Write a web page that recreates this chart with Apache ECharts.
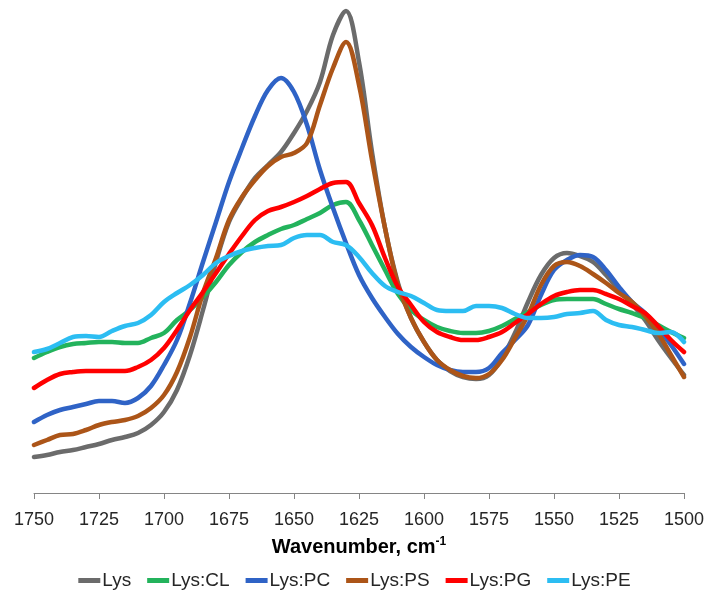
<!DOCTYPE html>
<html>
<head>
<meta charset="utf-8">
<title>Amide I / II spectra of lysozyme with lipids</title>
<script src="https://cdn.jsdelivr.net/npm/echarts@6/dist/echarts.min.js"></script>
<style>
  html, body { margin: 0; padding: 0; background: #ffffff; }
  #chart { width: 709px; height: 599px; }
</style>
</head>
<body>
<div id="chart"></div>
<script>
// Wavenumber grid, cm-1 (1750 -> 1500, step 5)
const wavenumbers = [];
for (let w = 1750; w >= 1500; w -= 5) wavenumbers.push(w);

// Absorbance, arbitrary units (x1000), one value per wavenumber above
const lys = [36, 38, 41, 43, 46, 49, 53, 56, 60, 68, 81, 103, 138, 183, 231, 271, 295, 315, 328, 341,
  360, 382, 411, 458, 482, 431, 341, 265, 210, 175, 151, 133, 122, 116, 114, 118, 135, 160, 191, 218,
  235, 240, 237, 231, 218, 203, 189, 173, 153, 135, 118];
const lysCL = [135, 141, 146, 149, 150, 151, 151, 150, 150, 155, 160, 173, 183, 196, 211, 228, 241, 251, 258, 264,
  268, 274, 280, 288, 291, 273, 248, 223, 199, 183, 173, 166, 162, 160, 160, 162, 167, 174, 181, 188,
  193, 194, 194, 194, 189, 184, 180, 175, 168, 161, 155];
const lysPC = [71, 78, 83, 86, 89, 92, 92, 90, 95, 107, 128, 153, 190, 231, 271, 311, 345, 377, 403, 415,
  401, 368, 323, 285, 250, 218, 195, 176, 159, 146, 136, 128, 123, 121, 121, 125, 140, 153, 168, 198,
  223, 233, 238, 236, 223, 206, 191, 180, 165, 148, 129];
const lysPS = [48, 53, 58, 59, 63, 68, 71, 73, 77, 85, 98, 121, 156, 200, 235, 273, 296, 313, 327, 336,
  340, 350, 388, 425, 451, 408, 333, 265, 208, 175, 151, 133, 123, 117, 115, 119, 133, 155, 178, 208,
  227, 231, 227, 219, 210, 200, 191, 177, 160, 138, 116];
const lysPG = [105, 113, 119, 121, 122, 122, 122, 122, 126, 133, 145, 163, 183, 201, 220, 239, 257, 273, 282, 286,
  291, 297, 304, 310, 311, 290, 268, 235, 206, 188, 171, 161, 156, 153, 153, 156, 161, 170, 179, 189,
  197, 201, 203, 203, 199, 194, 187, 180, 167, 153, 141];
const lysPE = [141, 144, 150, 156, 157, 156, 162, 167, 170, 178, 191, 200, 208, 218, 230, 237, 242, 245, 247, 248,
  255, 258, 258, 251, 248, 236, 220, 207, 201, 197, 190, 183, 182, 182, 187, 187, 185, 179, 175, 175,
  176, 179, 180, 182, 173, 168, 166, 163, 160, 161, 151];

const seriesNames = ['Lys', 'Lys:CL', 'Lys:PC', 'Lys:PS', 'Lys:PG', 'Lys:PE'];
const seriesValues = [lys, lysCL, lysPC, lysPS, lysPG, lysPE];
const seriesColors = ['#6b6b6b', '#23b35c', '#2f63c6', '#ac5518', '#ff0000', '#2cbdf2'];

// X axis ticks
const xMin = 1500, xMax = 1750, xStep = 25;

const FONT = '"Liberation Sans", Arial, sans-serif';

const chart = echarts.init(document.getElementById('chart'), null, { renderer: 'canvas' });

chart.setOption({
  animation: false,
  backgroundColor: '#ffffff',
  grid: { left: 34, right: 25, top: 3, bottom: 106, containLabel: false },
  legend: {
    bottom: 4,
    left: 'center',
    icon: 'rect',
    itemWidth: 22,
    itemHeight: 5,
    itemGap: 16,
    data: seriesNames,
    textStyle: { fontFamily: FONT, fontSize: 19, color: '#262626', padding: [0, 0, 0, -3] }
  },
  xAxis: {
    type: 'value',
    inverse: true,
    min: xMin,
    max: xMax,
    interval: xStep,
    splitLine: { show: false },
    axisLine: { show: true, onZero: false, lineStyle: { color: '#858585', width: 1 } },
    axisTick: { show: true, inside: false, length: 6, lineStyle: { color: '#858585', width: 1 } },
    axisLabel: {
      margin: 18,
      fontFamily: FONT,
      fontSize: 18,
      color: '#262626',
      formatter: (v) => String(v)
    },
    name: '{a|Wavenumber, cm}{b|-1}',
    nameLocation: 'middle',
    nameGap: 43,
    nameTextStyle: {
      fontFamily: FONT,
      rich: {
        a: { fontFamily: FONT, fontSize: 20, fontWeight: 'bold', color: '#000000', lineHeight: 22 },
        b: { fontFamily: FONT, fontSize: 12, fontWeight: 'bold', color: '#000000', verticalAlign: 'top', lineHeight: 12 }
      }
    }
  },
  yAxis: {
    type: 'value',
    min: 0,
    max: 490,
    show: false,
    splitLine: { show: false }
  },
  series: seriesNames.map((name, i) => ({
    name: name,
    type: 'line',
    data: wavenumbers.map((w, j) => [w, seriesValues[i][j]]),
    smooth: 0.35,
    showSymbol: false,
    symbol: 'none',
    itemStyle: { color: seriesColors[i] },
    lineStyle: { color: seriesColors[i], width: 4.5, cap: 'round', join: 'round' }
  }))
});
</script>
</body>
</html>
